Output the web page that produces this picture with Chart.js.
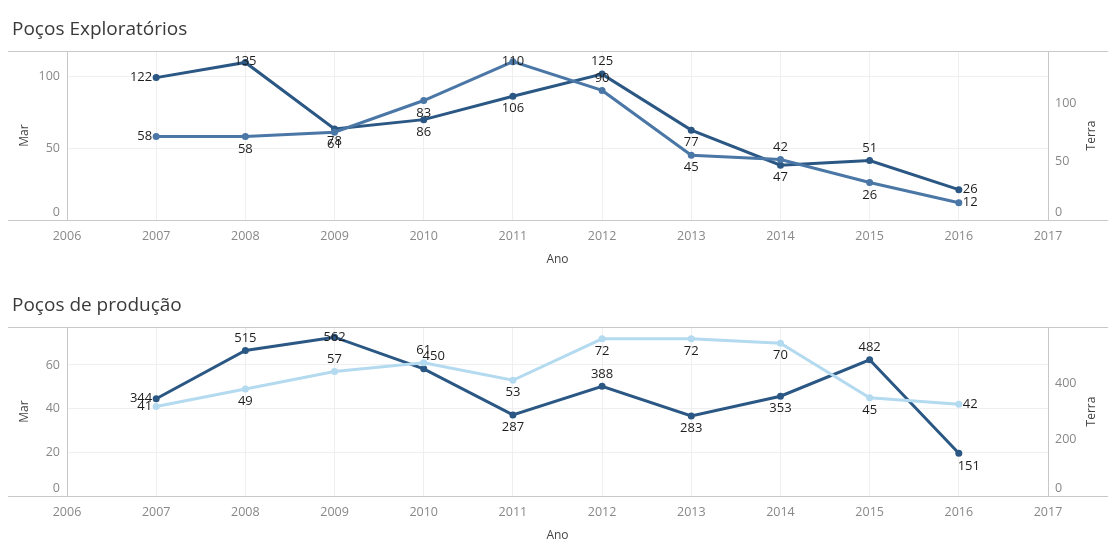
<!DOCTYPE html>
<html>
<head>
<meta charset="utf-8">
<script src="https://cdn.jsdelivr.net/npm/chart.js@4.4.1/dist/chart.umd.min.js"></script>
<style>
  body { margin: 0; background: #fff; width: 1119px; height: 559px; overflow: hidden; font-family: "Open Sans", sans-serif; }
  .panel { position: absolute; left: 0; width: 1119px; height: 280px; }
  .title { position: absolute; left: 12px; font-size: 19px; color: #3a3a3a; font-family: "Open Sans", sans-serif; }
</style>
</head>
<body>
<div class="panel" style="top:0"><canvas id="chart-exp"></canvas></div>
<div class="title" style="top:15px">Poços Exploratórios</div>
<div class="panel" style="top:276px"><canvas id="chart-prod"></canvas></div>
<div class="title" style="top:291px">Poços de produção</div>
<script>
const years = [2007, 2008, 2009, 2010, 2011, 2012, 2013, 2014, 2015, 2016];

// Poços Exploratórios
const expTerra = [122, 135, 78, 86, 106, 125, 77, 47, 51, 26];
const expMar = [58, 58, 61, 83, 110, 90, 45, 42, 26, 12];
const expMarTicks = [0, 50, 100];
const expTerraTicks = [0, 50, 100];

// Poços de produção
const prodTerra = [344, 515, 562, 450, 287, 388, 283, 353, 482, 151];
const prodMar = [41, 49, 57, 61, 53, 72, 72, 70, 45, 42];
const prodMarTicks = [0, 20, 40, 60];
const prodTerraTicks = [0, 200, 400];

const DARK = '#2a5783';
const MID = '#4a77a6';
const LIGHT = '#b4daf0';
const FONT = '"Open Sans", sans-serif';

// where each value label sits next to its point
const expTerraPos = ['left', 'top', 'bottom', 'bottom', 'bottom', 'top', 'bottom', 'bottom', 'top', 'right'];
const expMarPos = ['left', 'bottom', 'bottom', 'bottom', 'top', 'top', 'bottom', 'top', 'bottom', 'right'];
const prodTerraPos = ['left', 'top', 'top', 'top-right', 'bottom', 'top', 'bottom', 'bottom', 'top', 'bottom-right'];
const prodMarPos = ['left', 'bottom', 'top', 'top', 'bottom', 'bottom', 'bottom', 'bottom', 'bottom', 'right'];

const paneLines = {
  id: 'paneLines',
  beforeDatasetsDraw(chart) {
    const { ctx, chartArea: a } = chart;
    ctx.save();
    ctx.strokeStyle = '#c8c8c8';
    ctx.lineWidth = 1;
    [a.top, a.bottom].forEach(y => {
      const yy = Math.round(y) + 0.5;
      ctx.beginPath(); ctx.moveTo(8, yy); ctx.lineTo(1108, yy); ctx.stroke();
    });
    ctx.restore();
  }
};

const pointLabels = {
  id: 'pointLabels',
  afterDatasetsDraw(chart) {
    const { ctx, chartArea: a } = chart;
    ctx.save();
    ctx.font = '13px ' + FONT;
    ctx.fillStyle = '#1e1e1e';
    ctx.textBaseline = 'middle';
    chart.data.datasets.forEach((ds, di) => {
      const meta = chart.getDatasetMeta(di);
      meta.data.forEach((pt, i) => {
        const pos = ds.labelPos[i];
        let x = pt.x, y = pt.y;
        ctx.textAlign = 'center';
        if (pos.startsWith('top')) y -= 12.5;
        if (pos.startsWith('bottom')) y += 12.5;
        if (pos === 'left') { x -= 4; ctx.textAlign = 'right'; }
        if (pos === 'right') { x += 4; ctx.textAlign = 'left'; }
        if (pos.endsWith('-right')) x += 10;
        y = Math.max(y, a.top + 10);
        ctx.fillText(String(ds.data[i].y), x, y);
      });
    });
    ctx.restore();
  }
};

const rightTitle = {
  id: 'rightTitle',
  afterDraw(chart) {
    const { ctx, chartArea: a } = chart;
    ctx.save();
    ctx.font = '12px ' + FONT;
    ctx.fillStyle = '#444';
    ctx.textAlign = 'center';
    ctx.textBaseline = 'middle';
    ctx.translate(chart.width - 27, (a.top + a.bottom) / 2);
    ctx.rotate(-Math.PI / 2);
    ctx.fillText('Terra', 0, 0);
    ctx.restore();
  }
};

function series(vals) {
  return years.map((yr, i) => ({ x: yr, y: vals[i] }));
}

function fixedTicks(values) {
  return s => { s.ticks = values.map(v => ({ value: v })); };
}

// the zero label sits just above the baseline, like the original
const yLabel = v => (v === 0 ? ['0', ''] : String(v));

function makeChart(id, terra, mar, terraPos, marPos, marColor, marMax, marTicks, terraMax, terraTicks) {
  const tickFont = { family: FONT, size: 12.5 };
  const titleFont = { family: FONT, size: 12 };
  return new Chart(document.getElementById(id), {
    type: 'line',
    data: {
      datasets: [
        { label: 'Mar', data: series(mar), yAxisID: 'y', borderColor: marColor, backgroundColor: marColor,
          pointBackgroundColor: marColor, borderWidth: 3, pointRadius: 3.5, pointBorderWidth: 0, tension: 0, labelPos: marPos },
        { label: 'Terra', data: series(terra), yAxisID: 'y1', borderColor: DARK, backgroundColor: DARK,
          pointBackgroundColor: DARK, borderWidth: 3, pointRadius: 3.5, pointBorderWidth: 0, tension: 0, labelPos: terraPos }
      ]
    },
    options: {
      responsive: true, maintainAspectRatio: false, animation: false,
      layout: { padding: { top: 51, left: 0, right: 0, bottom: 0 } },
      plugins: { legend: { display: false }, tooltip: { enabled: false } },
      scales: {
        x: {
          type: 'linear', min: 2006, max: 2017,
          afterFit: s => { s.height = 60; },
          ticks: { stepSize: 1, color: '#888', font: tickFont, padding: 9, callback: v => String(v), autoSkip: false, maxRotation: 0 },
          grid: { color: '#efefef', drawTicks: false },
          border: { display: false },
          title: { display: true, text: 'Ano', color: '#444', font: titleFont, padding: { top: 0, bottom: 13 } }
        },
        y: {
          position: 'left', min: 0, max: marMax,
          afterFit: s => { s.width = 67; },
          afterBuildTicks: fixedTicks(marTicks),
          ticks: { color: '#888', font: tickFont, padding: 7, callback: yLabel },
          grid: { color: '#efefef', drawTicks: false },
          border: { color: '#c8c8c8' },
          title: { display: true, text: 'Mar', color: '#444', font: titleFont, padding: { top: 17, bottom: 0 } }
        },
        y1: {
          position: 'right', min: 0, max: terraMax,
          afterFit: s => { s.width = 71; },
          afterBuildTicks: fixedTicks(terraTicks),
          ticks: { color: '#888', font: tickFont, padding: 7, callback: yLabel },
          grid: { display: false, drawTicks: false },
          border: { color: '#c8c8c8' }
        }
      }
    },
    plugins: [paneLines, pointLabels, rightTitle]
  });
}

makeChart('chart-exp', expTerra, expMar, expTerraPos, expMarPos, MID, 117.4, expMarTicks, 144.8, expTerraTicks);
makeChart('chart-prod', prodTerra, prodMar, prodTerraPos, prodMarPos, LIGHT, 77.4, prodMarTicks, 598, prodTerraTicks);
</script>
</body>
</html>
